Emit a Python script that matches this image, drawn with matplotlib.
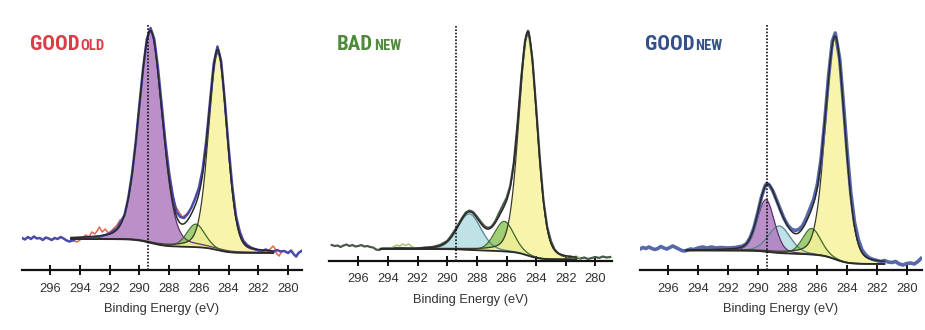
import os
import numpy as np
import matplotlib
matplotlib.use("Agg")
import matplotlib.pyplot as plt
from matplotlib import font_manager as fm

plt.rcParams['font.family'] = ['Liberation Sans', 'DejaVu Sans']

# ---------------- data ----------------
ENERGY_TICKS = [296, 294, 292, 290, 288, 286, 284, 282, 280]
REF_LINE_EV = 289.4
X_LABEL = "Binding Energy (eV)"
PANEL_TITLES = ["GOOD", "BAD", "GOOD"]
PANEL_SUBS = ["OLD", "NEW", "NEW"]
LORENTZ_FRACTION = 0.2

# Panel 1 (GOOD_OLD) fit components: centre (eV), height, FWHM (eV)
P1_PEAK_KIND = ["purple", "green", "yellow"]
P1_PEAK_CENTER = [289.25, 286.2, 284.72]
P1_PEAK_HEIGHT = [211, 23, 197]
P1_PEAK_FWHM = [1.87, 1.44, 1.46]
P1_BACKGROUND = [31, 17]          # high-BE level, low-BE level
P1_FIT_RANGE = [294.6, 281.0]
P1_MEAS_EV = [297.9, 297.7, 297.5, 297.3, 297.1, 296.9, 296.7, 296.5, 296.3, 296.1,
              295.9, 295.7, 295.5, 295.3, 295.1, 294.9, 294.7, 294.5, 294.3, 294.0,
              293.5, 293.0, 292.5, 292.0, 291.5, 291.0, 290.75, 290.5, 290.25, 290.0,
              289.75, 289.5, 289.25, 289.0, 288.75, 288.5, 288.25, 288.0, 287.75, 287.5,
              287.25, 287.0, 286.75, 286.5, 286.25, 286.0, 285.75, 285.5, 285.25, 285.0,
              284.75, 284.5, 284.25, 284.0, 283.75, 283.5, 283.25, 283.0, 282.75, 282.5,
              282.25, 282.0, 281.75, 281.5, 281.25, 281.0, 280.75, 280.5, 280.25, 280.0,
              279.8, 279.6, 279.45, 279.3, 279.1]
P1_MEAS_I = [32, 30.5, 33, 31, 33.5, 31.5, 32, 30, 32.5, 31.5,
             30, 32, 31, 33, 31.5, 29.5, 28.5, 29.5, 31, 31.5,
             31.5, 32, 34, 36.5, 42, 55, 72, 96, 127.5, 165.5,
             202, 231, 242, 231, 202, 165.5, 128, 97, 74, 58,
             53, 52, 56, 62.5, 71.5, 82, 100, 129.5, 168.5, 206.5,
             223.5, 209, 168.5, 123, 83.5, 54, 38.5, 29, 25, 22.5,
             21, 19.5, 19, 20.5, 19, 18, 20, 18.5, 19, 17,
             19.5, 15.5, 13.5, 17, 19]
P1_OLD_EV = [294.4, 294.2, 294.0, 293.8, 293.6, 293.4, 293.2, 293.0, 292.8, 292.7,
             292.5, 292.3, 292.1, 291.9, 291.7, 291.5, 291.3, None,
             288.0, 287.75, 287.6, 287.45, 287.3, 287.1, 286.9, 286.7, None,
             283.0, 282.75, 282.5, 282.2, 282.0, 281.8, 281.6, 281.4, 281.2, 281.0,
             280.9, 280.8, 280.6, 280.4]
P1_OLD_I = [29, 28, 30, 33, 35, 33, 38, 36, 40, 43,
            38, 41, 37, 39, 42, 45, 50, None,
            97, 75, 64, 61, 57, 53, 55, 58, None,
            29, 25, 22.5, 21, 19, 17, 20, 18, 21, 24,
            22, 17, 14, 19]

# Panel 2 (BAD_NEW)
P2_PEAK_KIND = ["cyan", "green", "yellow"]
P2_PEAK_CENTER = [288.5, 286.15, 284.55]
P2_PEAK_HEIGHT = [36, 30, 221]
P2_PEAK_FWHM = [1.85, 1.55, 1.46]
P2_BACKGROUND = [12, 1.5]
P2_FIT_RANGE = [294.5, 281.3]
P2_MEAS_EV = [297.8, 297.6, 297.4, 297.2, 297.0, 296.8, 296.6, 296.4, 296.2, 296.0,
              295.8, 295.6, 295.4, 295.2, 295.0, 294.8, 294.6, 294.4, 294.0, 293.5,
              293.0, 292.5, 292.0, 291.5, 291.0, 290.5, 290.0, 289.75, 289.5, 289.25,
              289.0, 288.75, 288.5, 288.25, 288.0, 287.75, 287.5, 287.25, 287.0, 286.75,
              286.5, 286.25, 286.0, 285.75, 285.5, 285.25, 285.0, 284.75, 284.55, 284.5,
              284.25, 284.0, 283.75, 283.5, 283.25, 283.0, 282.75, 282.5, 282.25, 282.0,
              281.75, 281.5, 281.25, 281.0, 280.75, 280.5, 280.25, 280.0, 279.75, 279.5,
              279.25, 279.0]
P2_MEAS_I = [16, 15, 15.5, 14, 15.5, 16.5, 15, 16, 14.5, 15,
             16, 14.5, 15, 14, 13.5, 11.5, 11, 12.5, 12.5, 13,
             13, 12.5, 12.5, 13.5, 14, 16, 20, 25, 30.5, 36.5,
             43, 48.5, 50.5, 49, 44.5, 39.5, 35, 33, 34.5, 40,
             48, 55.5, 63, 75, 99, 138, 184, 220, 230.3, 229,
             201.5, 154, 102.5, 60, 34, 20, 11.5, 7.5, 5.5, 4.5,
             3.5, 4, 3, 2.5, 3.5, 2, 3, 4, 3, 4.5,
             3.5, 4]
P2_OVERLAY_EV = [294.0, 293.8, 293.6, 293.4, 293.2, 293.0, 292.8, 292.6, 292.4, 292.2, None,
                 281.9, 281.7, 281.5, 281.3, 281.1]
P2_OVERLAY_I = [12.5, 13, 14.5, 16, 15, 17, 15.5, 17, 14.5, 13, None,
                4.5, 5.5, 4, 5, 3.5]

# Panel 3 (GOOD_NEW)
P3_PEAK_KIND = ["cyan", "purple", "green", "yellow"]
P3_PEAK_CENTER = [288.55, 289.45, 286.38, 284.8]
P3_PEAK_HEIGHT = [27, 52, 26, 221]
P3_PEAK_FWHM = [1.75, 1.34, 1.44, 1.54]
P3_BACKGROUND = [19.5, 6]
P3_FIT_RANGE = [294.8, 281.5]
P3_MEAS_EV = [297.9, 297.7, 297.5, 297.3, 297.1, 296.9, 296.7, 296.5, 296.3, 296.1,
              295.9, 295.7, 295.5, 295.3, 295.1, 294.9, 294.7, 294.5, 294.3, 294.0,
              293.7, 293.4, 293.1, 292.8, 292.5, 292.0, 291.5, 291.0, 290.75, 290.5,
              290.25, 290.0, 289.75, 289.5, 289.4, 289.25, 289.0, 288.75, 288.5, 288.25,
              288.0, 287.75, 287.5, 287.25, 287.0, 286.75, 286.5, 286.25, 286.0, 285.75,
              285.5, 285.25, 285.0, 284.8, 284.5, 284.25, 284.0, 283.75, 283.5, 283.25,
              283.0, 282.75, 282.5, 282.25, 282.0, 281.75, 281.5, 281.25, 281.0, 280.75,
              280.5, 280.25, 280.0, 279.75, 279.5, 279.25, 279.05]
P3_MEAS_I = [21, 22.5, 21.5, 23, 21.5, 20.5, 21.5, 23.5, 22, 21,
             22.5, 24, 22.5, 21, 19.5, 19, 20, 21, 20.5, 22,
             23, 22, 23, 22, 22.5, 22, 22.5, 24, 26.5, 32.5,
             42.5, 57, 73, 84.5, 86.5, 85.5, 79.5, 70.5, 61, 52,
             45, 41, 39.5, 40.5, 44, 51.5, 61, 70.5, 85.5, 111,
             149.5, 193.5, 228.5, 237, 211, 166, 118, 76, 47, 30.5,
             20, 15, 12, 10.5, 9.5, 8.5, 9.5, 8, 7.5, 8.5,
             6, 5, 6.5, 7, 6, 8.5, 11.5]

# ---------------- styles ----------------
FILL = {"purple": "#b07bbf", "green": "#8fc65a", "yellow": "#f8f39c", "cyan": "#b4dde2"}
EDGE = {"purple": "#5f3570", "green": "#3e6a2c", "yellow": "#3a3a2a", "cyan": "#55858c"}
TITLE_COLORS = ["#dc3c45", "#4e8a3b", "#34508a"]

W, H = 925, 330
# (left px, bottom px from top, width px, top px) for each panel
AX_PX = [(22, 270, 280, 25), (329.3, 261, 282.4, 25), (640, 270, 281.7, 25)]
XLIMS = [(297.9, 279.06), (297.96, 278.9), (297.9, 279.0)]
TITLE_X = [30, 336.7, 645]
TITLE_BASE_Y = 50

fig = plt.figure(figsize=(W / 100, H / 100), dpi=100)


def pv(x, c, h, f, eta):
    u = 4.0 * ((x - c) / f) ** 2
    return h * ((1 - eta) * np.exp(-np.log(2) * u) + eta / (1 + u))


def to_arr(seq):
    return np.array([np.nan if v is None else v for v in seq], dtype=float)


def is_bold(f):
    w = f.weight
    if isinstance(w, str):
        return w.lower() in ("bold", "heavy", "black", "extra bold", "demibold")
    return w >= 700


def pick_title_font():
    entries = [f for f in fm.fontManager.ttflist if is_bold(f) and f.style == "normal"]
    prefs = ["Liberation Sans Narrow", "DejaVu Sans Condensed", "Noto Sans Condensed",
             "Roboto Condensed", "Open Sans Condensed"]
    for name in prefs:
        for f in entries:
            if f.name == name:
                return f.fname
    for f in entries:
        base = os.path.basename(f.fname)
        if ("Narrow" in base or "Condensed" in base) and "Extra" not in base and "Semi" not in base:
            return f.fname
    for f in entries:
        if f.stretch in ("condensed", "semi-condensed"):
            return f.fname
    return None


TITLE_FONT_FILE = pick_title_font()


def title_fp(size):
    if TITLE_FONT_FILE:
        fp = fm.FontProperties(fname=TITLE_FONT_FILE)
    else:
        fp = fm.FontProperties(family="DejaVu Sans", weight="bold", stretch="condensed")
    fp.set_size(size)
    return fp


panels = [
    dict(kind=P1_PEAK_KIND, c=P1_PEAK_CENTER, h=P1_PEAK_HEIGHT, f=P1_PEAK_FWHM,
         bg=P1_BACKGROUND, rng=P1_FIT_RANGE,
         traces=[(P1_OLD_EV, P1_OLD_I, "#e8664f", 1.1, 3),
                 (P1_MEAS_EV, P1_MEAS_I, "#4a4aa8", 1.8, 4)]),
    dict(kind=P2_PEAK_KIND, c=P2_PEAK_CENTER, h=P2_PEAK_HEIGHT, f=P2_PEAK_FWHM,
         bg=P2_BACKGROUND, rng=P2_FIT_RANGE,
         traces=[(P2_MEAS_EV, P2_MEAS_I, "#4a5a48", 1.6, 4),
                 (P2_OVERLAY_EV, P2_OVERLAY_I, "#a4c474", 1.1, 4.5)]),
    dict(kind=P3_PEAK_KIND, c=P3_PEAK_CENTER, h=P3_PEAK_HEIGHT, f=P3_PEAK_FWHM,
         bg=P3_BACKGROUND, rng=P3_FIT_RANGE,
         traces=[(P3_MEAS_EV, P3_MEAS_I, "#5668a8", 2.6, 4)]),
]

for i, p in enumerate(panels):
    lpx, bpx, wpx, tpx = AX_PX[i]
    hpx = bpx - tpx
    ax = fig.add_axes([lpx / W, (H - bpx) / H, wpx / W, hpx / H])
    ax.patch.set_alpha(0)
    ax.set_xlim(*XLIMS[i])
    ax.set_ylim(0, hpx)
    for s in ["left", "right", "top"]:
        ax.spines[s].set_visible(False)
    ax.spines["bottom"].set_linewidth(1.6)
    ax.spines["bottom"].set_color("#111111")
    ax.set_yticks([])
    ax.set_xticks(ENERGY_TICKS)
    ax.set_xticklabels([str(t) for t in ENERGY_TICKS])
    ax.tick_params(axis="x", direction="inout", length=7, width=1.4, pad=5.5,
                   labelsize=9.3, labelcolor="#333333", color="#111111")
    ax.set_xlabel(X_LABEL, fontsize=9.3, color="#333333", labelpad=6)

    lo, hi = min(p["rng"]), max(p["rng"])
    xg = np.linspace(lo, hi, 800)
    comps = [pv(xg, c, h, f, LORENTZ_FRACTION) for c, h, f in zip(p["c"], p["h"], p["f"])]
    total = np.sum(comps, axis=0)
    frac = np.cumsum(total) / np.sum(total)
    base = p["bg"][1] + (p["bg"][0] - p["bg"][1]) * frac

    for k, comp in zip(p["kind"], comps):
        ax.fill_between(xg, base, base + comp, color=FILL[k], alpha=0.85, lw=0, zorder=1)
        ax.plot(xg, base + comp, color=EDGE[k], lw=0.9, zorder=2)

    for ev, inten, col, lw, z in p["traces"]:
        ax.plot(to_arr(ev), to_arr(inten), color=col, lw=lw, zorder=z,
                solid_joinstyle="round")

    ax.plot(xg, base, color="#2a2a2a", lw=1.3, zorder=5)
    ax.plot(xg, base + total, color="#2a2a2a", lw=1.1, zorder=5)

    ax.axvline(REF_LINE_EV, color="#111111", lw=1.2, ls=(0, (1, 1)), zorder=6)

# titles with subscripts
mains = []
for i in range(3):
    t = fig.text(TITLE_X[i] / W, 1 - TITLE_BASE_Y / H, PANEL_TITLES[i],
                 fontproperties=title_fp(15), color=TITLE_COLORS[i],
                 va="baseline", ha="left")
    mains.append(t)
fig.canvas.draw()
r = fig.canvas.get_renderer()
for i, t in enumerate(mains):
    bb = t.get_window_extent(r)
    fig.text((bb.x1 + 1) / W, 1 - (TITLE_BASE_Y + 0.5) / H, PANEL_SUBS[i],
             fontproperties=title_fp(10.5), color=TITLE_COLORS[i],
             va="baseline", ha="left")

fig.savefig("out.png", dpi=100)
